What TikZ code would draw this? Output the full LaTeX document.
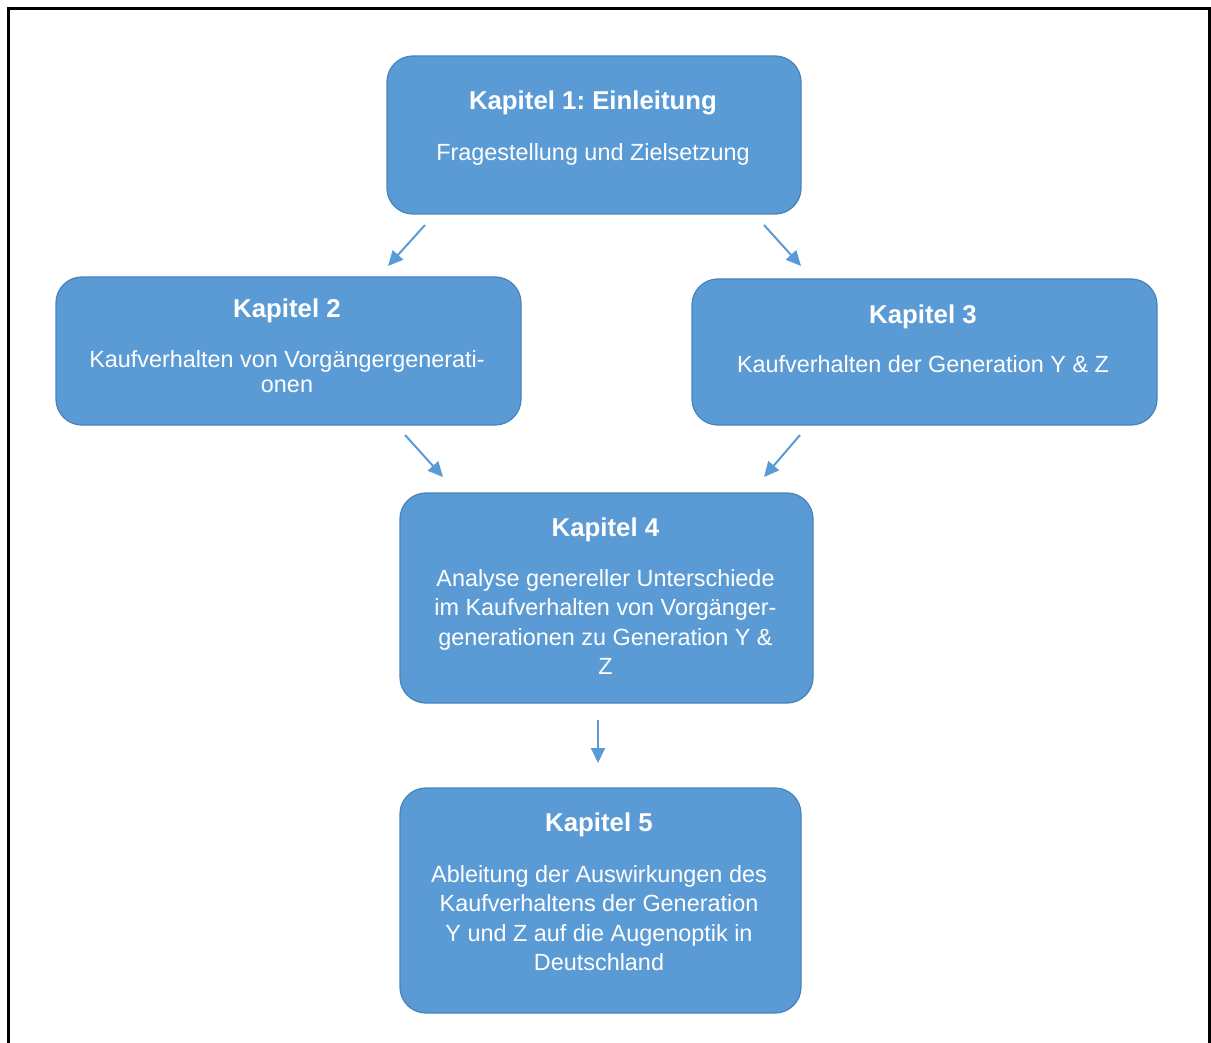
\documentclass[tikz,border=0pt]{standalone}
\usepackage{fontspec}
\setmainfont{Liberation Sans}
\usetikzlibrary{arrows.meta}
\definecolor{boxblue}{HTML}{5B9BD5}
\definecolor{boxedge}{HTML}{4A84BC}
\frenchspacing
\begin{document}
\begin{tikzpicture}[x=1pt,y=-1pt,
  chapter/.style={draw=boxedge, line width=1.3pt, fill=boxblue,
    rounded corners=26pt, inner sep=0pt},
  heading/.style={text=white, font=\fontsize{25.8}{30}\selectfont\bfseries, inner sep=0pt},
  body/.style={text=white, align=center, inner sep=0pt,
    font=\fontsize{23.4}{29.5}\selectfont},
  flow/.style={draw=boxblue, line width=2pt,
    -{Triangle[length=15pt,width=14pt]}}]
  \useasboundingbox (0,0) rectangle (1211,1043);
  % open frame (no bottom edge)
  \draw[line width=3pt] (8.5,1043) -- (8.5,8.5) -- (1209.5,8.5) -- (1209.5,1043);

  % chapter boxes
  \node[chapter, minimum width=414pt, minimum height=158pt] (k1) at (594,135) {};
  \node[chapter, minimum width=465pt, minimum height=148pt] (k2) at (288.5,351) {};
  \node[chapter, minimum width=465pt, minimum height=146pt] (k3) at (924.5,352) {};
  \node[chapter, minimum width=413pt, minimum height=210pt] (k4) at (606.5,598) {};
  \node[chapter, minimum width=401pt, minimum height=225pt] (k5) at (600.5,900.5) {};

  % texts
  \node[heading] (t1) at (593,103) {Kapitel 1: Einleitung};
  \node[body] (b1) at (593,154) {Fragestellung und Zielsetzung};

  \node[heading] (t2) at (287,311) {Kapitel 2};
  \node[body, font=\fontsize{23.4}{25}\selectfont] (b2) at (287,372)
    {Kaufverhalten von Vorgängergenerati-\\onen};

  \node[heading] (t3) at (923,317) {Kapitel 3};
  \node[body] (b3) at (923,364) {Kaufverhalten der Generation Y \& Z};

  \node[heading] (t4) at (605.5,530) {Kapitel 4};
  \node[body] (b4) at (605.5,622)
    {Analyse genereller Unterschiede\\im Kaufverhalten von Vorgänger-\\generationen zu Generation Y \&\\Z};

  \node[heading] (t5) at (599,825) {Kapitel 5};
  \node[body] (b5) at (599,918)
    {Ableitung der Auswirkungen des\\Kaufverhaltens der Generation\\Y und Z auf die Augenoptik in\\Deutschland};

  % arrow end points
  \coordinate (a1s) at (425,225);  \coordinate (a1e) at (388,266);
  \coordinate (a2s) at (764,225);  \coordinate (a2e) at (801,266);
  \coordinate (a3s) at (405,435);  \coordinate (a3e) at (443,477);
  \coordinate (a4s) at (800,435);  \coordinate (a4e) at (764,477);
  \coordinate (a5s) at (598,720);  \coordinate (a5e) at (598,763);

  \draw[flow] (a1s) -- (a1e);
  \draw[flow] (a2s) -- (a2e);
  \draw[flow] (a3s) -- (a3e);
  \draw[flow] (a4s) -- (a4e);
  \draw[flow] (a5s) -- (a5e);
\end{tikzpicture}
\end{document}
